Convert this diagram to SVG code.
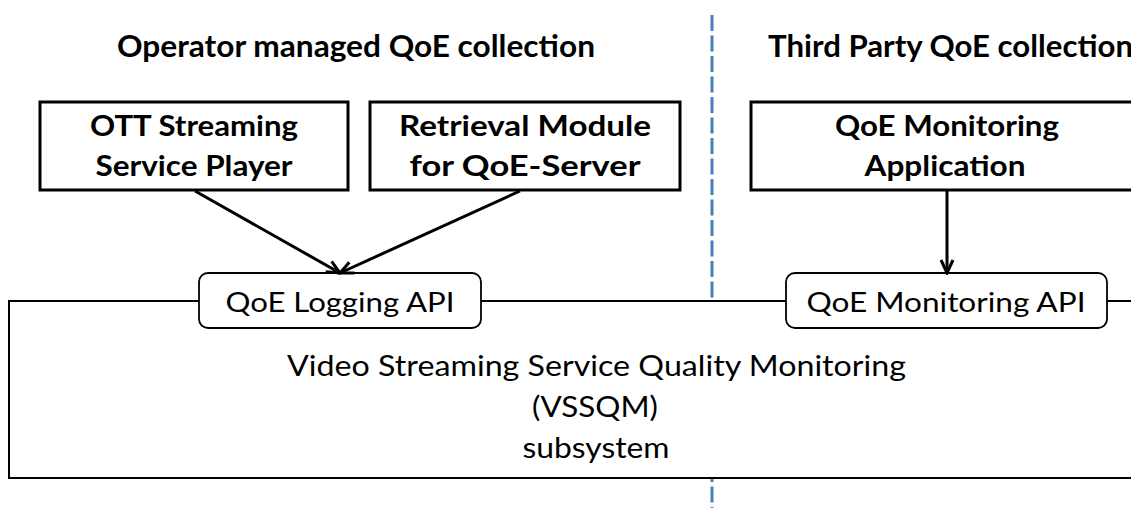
<svg xmlns="http://www.w3.org/2000/svg" width="1131" height="508" viewBox="0 0 1131 508">
<style>
.title{font-family:Lato,"Liberation Sans",sans-serif;font-weight:bold;font-size:31px;fill:#000}
.box{fill:#fff;stroke:#000;stroke-width:3}
.btxt{font-family:Lato,"Liberation Sans",sans-serif;font-weight:bold;font-size:29px;fill:#000;text-anchor:middle}
.api{fill:#fff;stroke:#000;stroke-width:1.8}
.atxt{font-family:Lato,"Liberation Sans",sans-serif;font-size:26px;fill:#000;text-anchor:middle}
.mtxt{font-family:Lato,"Liberation Sans",sans-serif;font-size:29px;fill:#000;text-anchor:middle}
.conn{stroke:#000;stroke-width:3;fill:none;marker-end:url(#arr)}
</style>
<defs>
<marker id="arr" markerUnits="userSpaceOnUse" markerWidth="18" markerHeight="18" viewBox="0 0 18 18" refX="16" refY="9" orient="auto">
<path d="M3,3 L16,9 L3,15" fill="none" stroke="#000" stroke-width="3"/>
</marker>
</defs>
<rect width="1131" height="508" fill="#fff"/>
<line id="divider" x1="712" y1="15" x2="712" y2="508" stroke="#4a7ebb" stroke-width="3" stroke-dasharray="16 4.5"/>
<text id="title1" class="title" x="117" y="57" textLength="478" lengthAdjust="spacingAndGlyphs">Operator managed QoE collection</text>
<text id="title2" class="title" x="768" y="57" textLength="365" lengthAdjust="spacingAndGlyphs">Third Party QoE collection</text>
<g id="vssqm">
<rect x="9" y="301" width="1140" height="177" fill="#fff" stroke="#000" stroke-width="2"/>
<text class="mtxt" x="596.5" y="376" textLength="619" lengthAdjust="spacingAndGlyphs">Video Streaming Service Quality Monitoring</text>
<text class="mtxt" x="595" y="417" textLength="126" lengthAdjust="spacingAndGlyphs">(VSSQM)</text>
<text class="mtxt" x="596" y="458" textLength="147" lengthAdjust="spacingAndGlyphs">subsystem</text>
</g>
<g id="ott">
<rect class="box" x="40" y="102" width="308" height="88"/>
<text class="btxt" x="194" y="136" textLength="208" lengthAdjust="spacingAndGlyphs">OTT Streaming</text>
<text class="btxt" x="194" y="176" textLength="197" lengthAdjust="spacingAndGlyphs">Service Player</text>
</g>
<g id="retrieval">
<rect class="box" x="370" y="102" width="310" height="88"/>
<text class="btxt" x="525" y="136" textLength="252" lengthAdjust="spacingAndGlyphs">Retrieval Module</text>
<text class="btxt" x="525" y="176" textLength="231" lengthAdjust="spacingAndGlyphs">for QoE-Server</text>
</g>
<g id="qoeapp">
<rect class="box" x="751" y="102" width="420" height="88"/>
<text class="btxt" x="947" y="136" textLength="224" lengthAdjust="spacingAndGlyphs">QoE Monitoring</text>
<text class="btxt" x="945" y="176" textLength="161" lengthAdjust="spacingAndGlyphs">Application</text>
</g>
<g id="loggingapi">
<rect class="api" x="199" y="273" width="282" height="55" rx="9"/>
<text class="atxt" x="340" y="312" textLength="229" lengthAdjust="spacingAndGlyphs">QoE Logging API</text>
</g>
<g id="monitoringapi">
<rect class="api" x="786" y="273" width="321" height="55" rx="9"/>
<text class="atxt" x="946" y="312" textLength="279" lengthAdjust="spacingAndGlyphs">QoE Monitoring API</text>
</g>
<g id="connectors">
<line class="conn" x1="195" y1="191" x2="340" y2="273"/>
<line class="conn" x1="520" y1="191" x2="340" y2="273"/>
<line class="conn" x1="947" y1="191" x2="947" y2="273"/>
</g>
</svg>
